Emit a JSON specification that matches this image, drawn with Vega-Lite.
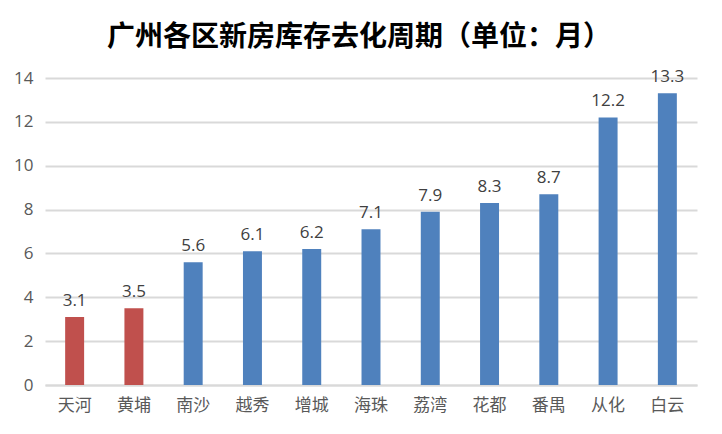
{
  "$schema": "https://vega.github.io/schema/vega-lite/v6.json",
  "width": 652,
  "height": 307,
  "autosize": {"type": "none"},
  "padding": {"left": 45, "top": 78, "right": 25, "bottom": 49},
  "background": "white",
  "title": {
    "text": "广州各区新房库存去化周期（单位：月）",
    "font": "Noto Sans CJK SC",
    "fontSize": 28,
    "fontWeight": "bold",
    "color": "#000000",
    "anchor": "middle",
    "dx": -12,
    "offset": 16
  },
  "data": {
    "values": [
      {"district": "天河", "months": 3.1, "group": "a"},
      {"district": "黄埔", "months": 3.5, "group": "a"},
      {"district": "南沙", "months": 5.6, "group": "b"},
      {"district": "越秀", "months": 6.1, "group": "b"},
      {"district": "增城", "months": 6.2, "group": "b"},
      {"district": "海珠", "months": 7.1, "group": "b"},
      {"district": "荔湾", "months": 7.9, "group": "b"},
      {"district": "花都", "months": 8.3, "group": "b"},
      {"district": "番禺", "months": 8.7, "group": "b"},
      {"district": "从化", "months": 12.2, "group": "b"},
      {"district": "白云", "months": 13.3, "group": "b"}
    ]
  },
  "encoding": {
    "x": {
      "field": "district",
      "type": "nominal",
      "sort": null,
      "scale": {"paddingInner": 0.68, "paddingOuter": 0.34},
      "axis": {
        "title": null,
        "labelAngle": 0,
        "labelFont": "Noto Sans CJK SC",
        "labelFontSize": 17,
        "labelColor": "#595959",
        "labelPadding": 12,
        "ticks": false,
        "domainColor": "#d9d9d9",
        "domainWidth": 2
      }
    },
    "y": {
      "field": "months",
      "type": "quantitative",
      "scale": {"domain": [0, 14], "nice": false},
      "axis": {
        "title": null,
        "values": [0, 2, 4, 6, 8, 10, 12, 14],
        "labelFont": "Open Sans",
        "labelFontSize": 17,
        "labelColor": "#595959",
        "labelPadding": 12,
        "ticks": false,
        "domain": false,
        "gridColor": "#d9d9d9",
        "gridWidth": 2
      }
    }
  },
  "layer": [
    {
      "mark": {"type": "bar"},
      "encoding": {
        "color": {
          "field": "group",
          "type": "nominal",
          "scale": {"domain": ["a", "b"], "range": ["#C0504D", "#4F81BD"]},
          "legend": null
        }
      }
    },
    {
      "mark": {"type": "text", "dy": -16, "font": "Open Sans", "fontSize": 17, "color": "#404040"},
      "encoding": {
        "text": {"field": "months", "type": "quantitative", "format": ".1f"}
      }
    }
  ],
  "config": {"view": {"stroke": null}}
}
